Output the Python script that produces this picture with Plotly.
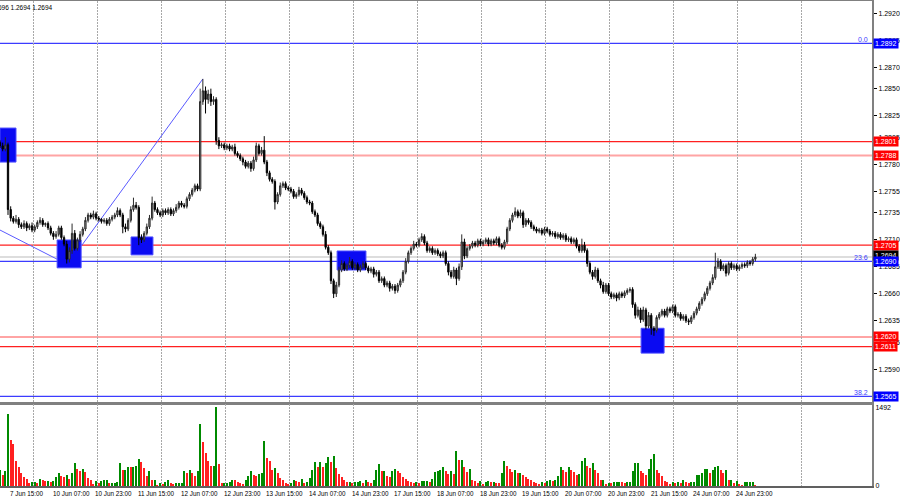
import plotly.graph_objects as go

# ---------------- data (prices in pips: 1 + v/10000) ----------------
FIRST_BAR = -3
FIRST_OPEN = 2800
CLOSE = [
    2797, 2794, 2798, 2738, 2730, 2727, 2729, 2724, 2722, 2725, 2721, 2723, 2719, 2722, 2726, 2728, 2724, 2725, 2721, 2716, 2713, 2715, 2721, 2712,
    2706, 2692, 2700, 2716, 2702, 2710, 2715, 2720, 2728, 2733, 2731, 2734, 2730, 2729, 2727, 2728, 2725, 2729, 2731, 2733, 2737, 2733, 2722, 2720,
    2728, 2738, 2742, 2740, 2712, 2710, 2716, 2722, 2730, 2744, 2738, 2735, 2733, 2737, 2735, 2738, 2734, 2737, 2740, 2744, 2742, 2741, 2748, 2752,
    2756, 2760, 2757, 2838, 2848, 2840, 2845, 2838, 2840, 2802, 2797, 2798, 2795, 2797, 2794, 2796, 2790, 2788, 2785, 2782, 2778, 2781, 2776, 2784,
    2797, 2790, 2793, 2782, 2772, 2766, 2764, 2745, 2752, 2760, 2762, 2758, 2757, 2755, 2750, 2752, 2756, 2753, 2749, 2745, 2744, 2736, 2733, 2725,
    2722, 2715, 2703, 2698, 2672, 2660, 2668, 2682, 2688, 2683, 2686, 2690, 2684, 2687, 2682, 2685, 2688, 2684, 2681, 2683, 2678, 2680, 2672, 2674,
    2668, 2670, 2665, 2667, 2663, 2668, 2672, 2680, 2690, 2698, 2702, 2706, 2705, 2710, 2713, 2707, 2700, 2702, 2698, 2700, 2697, 2695, 2698, 2688,
    2680, 2676, 2682, 2674, 2685, 2708, 2695, 2702, 2704, 2707, 2705, 2709, 2706, 2708, 2710, 2706, 2709, 2707, 2711, 2705, 2703, 2708, 2720, 2728,
    2733, 2736, 2732, 2735, 2724, 2728, 2726, 2722, 2720, 2718, 2719, 2716, 2720, 2718, 2715, 2716, 2713, 2715, 2712, 2714, 2710, 2711, 2708, 2710,
    2704, 2700, 2705, 2700, 2688, 2680, 2676, 2682, 2672, 2668, 2662, 2668, 2660, 2657, 2659, 2656, 2660, 2658, 2661, 2663, 2664, 2650, 2640, 2645,
    2636, 2645, 2630, 2640, 2628, 2626, 2638, 2641, 2644, 2640, 2646, 2644, 2648, 2640, 2641, 2637, 2639, 2635, 2634, 2638, 2642, 2646, 2651, 2655,
    2660, 2665, 2670, 2675, 2685, 2690, 2683, 2686, 2679, 2688, 2684, 2686, 2683, 2685, 2687, 2686, 2689, 2688, 2692, 2694,
]
WICK_UP = [
    2, 3, 7, 2, 3, 2, 4, 2, 2, 3, 2, 2, 3, 2, 2, 3, 2, 1, 2, 2, 2, 3, 2, 2,
    2, 3, 3, 9, 3, 2, 3, 2, 3, 2, 2, 3, 2, 2, 1, 2, 2, 2, 2, 2, 3, 2, 2, 3,
    2, 3, 7, 3, 2, 3, 2, 3, 3, 6, 2, 2, 2, 2, 2, 2, 2, 2, 3, 2, 2, 2, 2, 2,
    2, 2, 2, 12, 11, 4, 4, 5, 3, 2, 3, 2, 2, 2, 2, 2, 3, 2, 2, 2, 2, 2, 2, 3,
    3, 2, 3, 13, 2, 2, 2, 2, 2, 3, 2, 2, 2, 2, 2, 2, 3, 2, 2, 2, 2, 2, 2, 2,
    2, 2, 3, 2, 2, 2, 3, 3, 3, 2, 2, 4, 2, 2, 2, 2, 2, 2, 2, 2, 2, 2, 2, 2,
    2, 2, 2, 2, 2, 2, 2, 2, 3, 2, 2, 3, 2, 2, 3, 2, 2, 2, 2, 2, 2, 2, 2, 2,
    2, 2, 3, 2, 3, 7, 3, 2, 2, 2, 2, 2, 2, 2, 2, 2, 2, 2, 2, 2, 2, 2, 2, 2,
    2, 4, 2, 3, 2, 2, 2, 2, 2, 2, 2, 2, 2, 2, 2, 2, 2, 2, 2, 2, 2, 2, 2, 2,
    2, 2, 6, 3, 2, 2, 2, 3, 2, 2, 3, 2, 2, 2, 2, 2, 2, 2, 2, 2, 2, 2, 2, 3,
    2, 3, 2, 3, 2, 2, 2, 2, 2, 2, 2, 2, 2, 2, 2, 2, 2, 2, 2, 2, 2, 2, 2, 2,
    2, 2, 2, 3, 13, 3, 2, 2, 2, 2, 2, 2, 2, 2, 2, 2, 2, 2, 2, 3,
]
WICK_DN = [
    2, 2, 2, 5, 3, 2, 2, 3, 2, 2, 3, 2, 2, 2, 2, 2, 2, 2, 2, 2, 3, 2, 2, 2,
    2, 4, 3, 3, 2, 2, 2, 2, 2, 2, 2, 2, 2, 2, 2, 2, 2, 2, 2, 2, 2, 2, 6, 3,
    2, 2, 2, 2, 7, 3, 2, 2, 2, 2, 2, 2, 2, 2, 2, 2, 2, 2, 2, 2, 2, 2, 2, 2,
    2, 2, 2, 2, 3, 13, 4, 4, 3, 4, 3, 2, 2, 2, 2, 2, 2, 2, 2, 3, 2, 2, 3, 2,
    2, 2, 2, 2, 3, 2, 2, 7, 2, 2, 2, 2, 2, 2, 2, 2, 2, 2, 2, 2, 2, 2, 2, 2,
    2, 2, 2, 2, 3, 4, 3, 2, 2, 2, 2, 2, 2, 2, 2, 2, 2, 2, 2, 2, 3, 2, 2, 2,
    2, 2, 3, 2, 3, 2, 2, 2, 2, 2, 2, 2, 2, 2, 2, 2, 2, 2, 2, 2, 2, 2, 2, 2,
    3, 2, 2, 6, 2, 3, 3, 2, 2, 2, 2, 2, 2, 2, 2, 2, 2, 2, 2, 2, 2, 2, 2, 2,
    2, 2, 2, 2, 3, 2, 2, 2, 2, 2, 2, 2, 2, 2, 2, 2, 2, 2, 2, 2, 2, 2, 2, 2,
    2, 2, 2, 2, 3, 2, 3, 2, 2, 3, 2, 2, 2, 2, 2, 3, 2, 2, 2, 2, 2, 3, 3, 2,
    3, 2, 3, 2, 6, 5, 2, 2, 2, 2, 2, 2, 2, 2, 2, 2, 2, 2, 3, 2, 2, 2, 2, 2,
    2, 2, 2, 2, 2, 2, 2, 2, 3, 2, 2, 2, 2, 2, 2, 2, 2, 2, 2, 2,
]
VOLUME = [
    302, 208, 284, 1361, 870, 788, 472, 365, 252, 164, 126, 50, 82, 82, 63, 126, 107, 101, 101, 82, 101, 164, 239, 189,
    164, 208, 139, 252, 428, 315, 284, 315, 271, 145, 113, 32, 95, 63, 101, 113, 113, 50, 50, 50, 76, 441, 296, 296,
    365, 353, 365, 384, 517, 454, 334, 189, 284, 113, 113, 19, 63, 32, 82, 113, 63, 32, 63, 63, 63, 290, 252, 302,
    239, 195, 290, 1166, 826, 630, 472, 378, 378, 1487, 416, 50, 63, 63, 82, 113, 107, 76, 50, 32, 113, 189, 277, 208,
    189, 227, 252, 857, 523, 479, 302, 334, 252, 145, 113, 50, 32, 50, 113, 101, 82, 126, 50, 69, 145, 302, 460, 365,
    460, 365, 441, 554, 460, 567, 334, 227, 176, 113, 82, 82, 50, 76, 82, 101, 63, 113, 82, 50, 113, 302, 416, 284,
    284, 189, 176, 284, 315, 284, 239, 164, 126, 101, 82, 50, 82, 50, 101, 101, 101, 82, 126, 271, 284, 302, 365, 290,
    227, 290, 227, 668, 491, 491, 365, 271, 328, 113, 95, 50, 95, 38, 82, 95, 76, 76, 63, 50, 239, 472, 378, 315,
    258, 302, 239, 239, 208, 164, 126, 113, 69, 50, 32, 76, 63, 101, 113, 101, 113, 189, 353, 302, 271, 353, 302, 265,
    208, 227, 472, 529, 378, 334, 428, 302, 239, 113, 113, 32, 63, 50, 76, 82, 82, 69, 63, 76, 76, 284, 428, 441,
    277, 252, 208, 315, 510, 599, 302, 239, 189, 88, 82, 32, 76, 50, 76, 63, 113, 76, 50, 76, 76, 208, 208, 239,
    328, 328, 239, 302, 365, 378, 302, 252, 302, 113, 113, 50, 95, 38, 25, 76, 76, 76, 76, 19,
]

TIME_LABEL_BARS = [0, 16, 32, 48, 64, 80, 96, 112, 128, 144, 160, 176, 192, 208, 224, 240, 256, 272]
TIME_LABELS = ["7 Jun 15:00", "10 Jun 07:00", "10 Jun 23:00", "11 Jun 15:00", "12 Jun 07:00",
               "12 Jun 23:00", "13 Jun 15:00", "14 Jun 07:00", "14 Jun 23:00", "17 Jun 15:00",
               "18 Jun 07:00", "18 Jun 23:00", "19 Jun 15:00", "20 Jun 07:00", "20 Jun 23:00",
               "21 Jun 15:00", "24 Jun 07:00", "24 Jun 23:00"]
GRID_BARS = [9.4, 33.4, 57.4, 81.4, 105.4, 129.4, 153.4, 177.4, 201.4, 225.4, 249.4, 273.4, 297.4]

PRICE_TICKS = [1.2920, 1.2895, 1.2870, 1.2850, 1.2825, 1.2805, 1.2780, 1.2755, 1.2735,
               1.2710, 1.2685, 1.2660, 1.2635, 1.2615, 1.2590]

# horizontal levels: (price, kind)
LEVELS = [(1.2892, "fib"), (1.2801, "res"), (1.2788, "res2"), (1.2705, "res"),
          (1.2690, "fib"), (1.2620, "res2"), (1.2611, "res"), (1.2565, "fib")]
FIB_TEXT = {1.2892: "0.0", 1.2690: "23.6", 1.2565: "38.2"}
BID = 1.2694

# analyst zones (bar from, bar to, price low, price high)
ZONES = [(-3.0, 3.0, 1.2782, 1.28135), (18.4, 27.4, 1.2684, 1.27098),
         (46.1, 54.3, 1.2696, 1.27126), (123.3, 134.1, 1.2682, 1.26996),
         (237.2, 245.8, 1.2605, 1.2628)]
# trend lines ((bar, price), (bar, price))
TRENDS = [((-3.0, 1.2719), (18.4, 1.2692)), ((27.4, 1.2704), (73.0, 1.2859))]

# ---------------- build ----------------
bars = list(range(FIRST_BAR, FIRST_BAR + len(CLOSE)))
opens_p = [FIRST_OPEN] + CLOSE[:-1]
o = [1 + v / 10000 for v in opens_p]
c = [1 + v / 10000 for v in CLOSE]
h = [1 + (max(a, b) + u) / 10000 for a, b, u in zip(opens_p, CLOSE, WICK_UP)]
l = [1 + (min(a, b) - d) / 10000 for a, b, d in zip(opens_p, CLOSE, WICK_DN)]

vcolors = []
prev = None
for v in VOLUME:
    vcolors.append("#ff2020" if (prev is not None and v < prev) else "#008a00")
    prev = v

fig = go.Figure()
fig.add_trace(go.Candlestick(
    x=bars, open=o, high=h, low=l, close=c, xaxis="x", yaxis="y",
    increasing=dict(line=dict(color="#2a2a2a", width=1), fillcolor="#9a9a9a"),
    decreasing=dict(line=dict(color="#000000", width=1), fillcolor="#000000"),
    whiskerwidth=0, showlegend=False, hoverinfo="skip"))
fig.add_trace(go.Bar(x=bars, y=VOLUME, marker=dict(color=vcolors, line=dict(width=0)),
                     width=0.75, xaxis="x2", yaxis="y2", showlegend=False, hoverinfo="skip"))

FONT = "Liberation Sans"
shapes = []
annotations = []

# bid line
shapes.append(dict(type="line", xref="paper", x0=0, x1=1, yref="y", y0=BID, y1=BID,
                   line=dict(color="#dddddd", width=2), layer="between"))
for price, kind in LEVELS:
    col = {"fib": "#3c3cff", "res": "#ff2020", "res2": "#ffa4a4"}[kind]
    w = 2 if kind == "res2" else 1.2
    shapes.append(dict(type="line", xref="paper", x0=0, x1=1, yref="y", y0=price, y1=price,
                       line=dict(color=col, width=w), layer="between"))
for x0, x1, y0, y1 in ZONES:
    shapes.append(dict(type="rect", xref="x", yref="y", x0=x0, x1=x1, y0=y0, y1=y1,
                       fillcolor="#0a0af2", line=dict(color="#4c4cff", width=1), layer="between"))
for (xa, ya), (xb, yb) in TRENDS:
    shapes.append(dict(type="line", xref="x", yref="y", x0=xa, y0=ya, x1=xb, y1=yb,
                       line=dict(color="#5a5aff", width=1), layer="between"))

# fib level texts
for price, txt in FIB_TEXT.items():
    annotations.append(dict(xref="paper", yref="y", x=1, y=price, text=txt, showarrow=False,
                            xanchor="right", yanchor="bottom", xshift=-2, yshift=-2,
                            font=dict(family=FONT, size=7, color="#3c3cff")))

# price labels on the scale
def price_label(price, bg, yshift=0):
    annotations.append(dict(xref="paper", yref="y", x=1, y=price, text=f"{price:.4f}",
                            showarrow=False, xanchor="left", yanchor="middle", xshift=1, yshift=yshift,
                            bgcolor=bg, borderpad=1, font=dict(family=FONT, size=7, color="white")))

price_label(1.2892, "#0000ff")
price_label(1.2801, "#ff0000")
price_label(1.2788, "#ff0000")
price_label(1.2705, "#ff0000")
price_label(BID, "#000000", yshift=2)
price_label(1.2690, "#0000ff")
price_label(1.2620, "#ff0000")
price_label(1.2611, "#ff0000")
price_label(1.2565, "#0000ff")

# time labels
for b, t in zip(TIME_LABEL_BARS, TIME_LABELS):
    annotations.append(dict(xref="x2", yref="paper", x=b, y=0, text=t, showarrow=False,
                            xanchor="left", yanchor="middle", yshift=-7, xshift=0,
                            font=dict(family=FONT, size=6.3, color="#000000")))

# chart header (partially cut at the left edge, as in the terminal)
annotations.append(dict(xref="paper", yref="paper", x=55 / 872, y=1, text="GBPUSD,H1  1.2694 1.2696 1.2694 1.2694",
                        showarrow=False, xanchor="right", yanchor="middle", yshift=-6,
                        font=dict(family=FONT, size=6.5, color="#000000")))

XR = [-3.0, 323.7]
GRID = dict(showgrid=True, gridcolor="#a8a8a8", griddash="2px,1px", gridwidth=1)
fig.update_layout(
    width=900, height=500,
    margin=dict(l=0, r=28, t=1, b=14, autoexpand=False),
    paper_bgcolor="white", plot_bgcolor="white",
    bargap=0,
    xaxis=dict(domain=[0, 1], anchor="y", range=XR, showticklabels=False, ticks="",
               tickvals=GRID_BARS, **GRID,
               showline=True, linecolor="#808080", linewidth=3, mirror=True,
               rangeslider=dict(visible=False), zeroline=False, fixedrange=True),
    yaxis=dict(domain=[0.1732, 1], anchor="x", side="right", range=[1.25597, 1.29312],
               tickvals=PRICE_TICKS, ticktext=[f"{v:.4f}" for v in PRICE_TICKS],
               ticks="outside", ticklen=3, tickcolor="#000000", showgrid=False, zeroline=False,
               showline=True, linecolor="#808080", linewidth=2,
               tickfont=dict(family=FONT, size=7, color="#000000")),
    xaxis2=dict(domain=[0, 1], anchor="y2", range=XR, matches="x", showticklabels=False, ticks="",
                tickvals=GRID_BARS, **GRID,
                showline=True, linecolor="#606060", linewidth=2, zeroline=False),
    yaxis2=dict(domain=[0, 0.169], anchor="x2", side="right", range=[0, 1550],
                tickvals=[0, 1492], ticktext=["0", "1492"], ticks="", showgrid=False, zeroline=False,
                showline=True, linecolor="#808080", linewidth=2,
                tickfont=dict(family=FONT, size=7, color="#000000")),
    shapes=shapes, annotations=annotations,
)

fig.write_html("out.html", config={"displayModeBar": False, "staticPlot": True},
               post_script="document.body.style.margin='0';document.body.style.padding='0';")
